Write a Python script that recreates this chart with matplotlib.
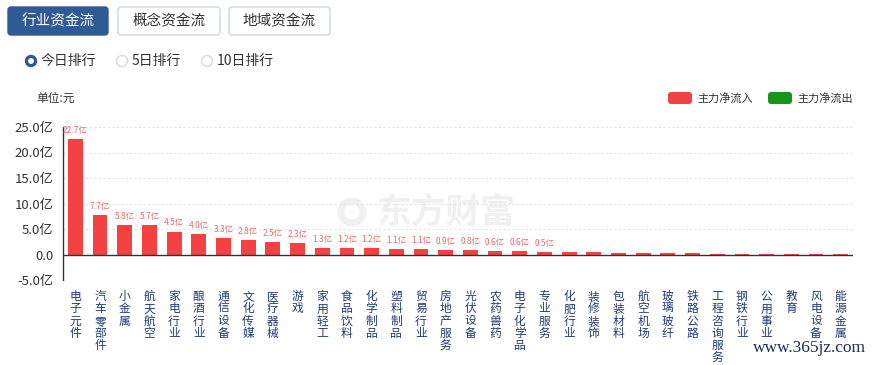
import matplotlib
matplotlib.use('Agg')
import matplotlib.pyplot as plt
from matplotlib.patches import FancyBboxPatch, Circle

plt.rcParams['font.family'] = ['Noto Sans CJK SC', 'DejaVu Sans']

# industries, today's main net inflow (亿元)
industries = ['电子元件', '汽车零部件', '小金属', '航天航空', '家电行业', '酿酒行业',
              '通信设备', '文化传媒', '医疗器械', '游戏', '家用轻工', '食品饮料',
              '化学制品', '塑料制品', '贸易行业', '房地产服务', '光伏设备', '农药兽药',
              '电子化学品', '专业服务', '化肥行业', '装修装饰', '包装材料', '航空机场',
              '玻璃玻纤', '铁路公路', '工程咨询服务', '钢铁行业', '公用事业', '教育',
              '风电设备', '能源金属']
inflow = [22.7, 7.7, 5.8, 5.7, 4.5, 4.0, 3.3, 2.8, 2.5, 2.3, 1.3, 1.2,
          1.2, 1.1, 1.1, 0.9, 0.8, 0.6, 0.6, 0.5, 0.4, 0.4, 0.3, 0.3,
          0.3, 0.2, 0.1, 0.05, 0.04, 0.03, 0.02, 0.02]
y_ticks = [-5, 0, 5, 10, 15, 20, 25]
y_tick_labels = ['-5.0亿', '0.0', '5.0亿', '10.0亿', '15.0亿', '20.0亿', '25.0亿']
tabs = ['行业资金流', '概念资金流', '地域资金流']
periods = ['今日排行', '5日排行', '10日排行']

W, H = 874, 365
fig = plt.figure(figsize=(W / 100, H / 100), dpi=100)

# overlay for the page widgets (pixel coords)
ov = fig.add_axes([0, 0, 1, 1], zorder=0)
ov.set_xlim(0, W)
ov.set_ylim(H, 0)
ov.axis('off')

blue = '#2f5a96'
tab_x = [(8, 108), (118, 220), (229, 330)]
for i, (name, (x0, x1)) in enumerate(zip(tabs, tab_x)):
    fc = blue if i == 0 else 'white'
    ec = blue if i == 0 else '#cfd6e0'
    ov.add_patch(FancyBboxPatch((x0, 7), x1 - x0, 28, boxstyle='round,pad=0,rounding_size=3',
                                fc=fc, ec=ec, lw=1))
    ov.text((x0 + x1) / 2, 21.5, name, ha='center', va='center', fontsize=10.5,
            color='white' if i == 0 else '#333333')

radio_x = [31, 122, 207]
for i, (name, cx) in enumerate(zip(periods, radio_x)):
    if i == 0:
        ov.add_patch(Circle((cx, 61), 5.5, fc=blue, ec=blue))
        ov.add_patch(Circle((cx, 61), 2.2, fc='white', ec='white'))
    else:
        ov.add_patch(Circle((cx, 61), 5.5, fc='white', ec='#d5d9e0', lw=1))
    ov.text(cx + 10, 61, name, ha='left', va='center', fontsize=10, color='#333333')

ov.text(36, 98, '单位:元', ha='left', va='center', fontsize=8.5, color='#333333')

ov.add_patch(FancyBboxPatch((668, 92), 24, 12, boxstyle='round,pad=0,rounding_size=3',
                            fc='#f04343', ec='none'))
ov.text(697, 98, '主力净流入', ha='left', va='center', fontsize=8, color='#333333')
ov.add_patch(FancyBboxPatch((768, 92), 24, 12, boxstyle='round,pad=0,rounding_size=3',
                            fc='#16961a', ec='none'))
ov.text(797, 98, '主力净流出', ha='left', va='center', fontsize=8, color='#333333')

# watermark
ov.add_patch(Circle((352, 212), 11, fc='none', ec='#f0f0f0', lw=5))
ov.text(446, 212, '东方财富', ha='center', va='center', fontsize=25, color='#f0f0f0',
        fontweight='bold', style='italic')

ov.text(866, 348, 'www.365jz.com', ha='right', va='center', fontsize=12.5,
        family='Liberation Serif', color='#1c2c5e')

# main chart
ax = fig.add_axes([63 / W, 1 - 280 / H, (853 - 63) / W, 153 / H], zorder=1)
ax.patch.set_alpha(0)
x = list(range(len(industries)))
ax.bar(x, inflow, width=0.6, color='#f44242', zorder=3)
ax.set_xlim(-0.5, len(industries) - 0.5)
ax.set_ylim(-5, 25)
ax.set_yticks(y_ticks)
ax.set_yticklabels(y_tick_labels)
ax.tick_params(axis='y', length=0, labelsize=9.5, colors='#333333', pad=7)
ax.tick_params(axis='x', length=0)
ax.set_xticks([])
for v in y_ticks:
    if v != 0:
        ax.axhline(v, color='#e3e3e3', lw=0.8, ls=(0, (2, 2)), zorder=1)
ax.axhline(0, color='#333333', lw=1, zorder=4)
for s in ['top', 'right', 'bottom']:
    ax.spines[s].set_visible(False)
ax.spines['left'].set_color('#333333')
ax.spines['left'].set_linewidth(1)

for xi, v in zip(x, inflow):
    if v >= 0.5:
        ax.text(xi, v + 0.8, '%.1f亿' % v, ha='center', va='bottom', fontsize=6,
                color='#e86a6a', zorder=5)

for xi, name in zip(x, industries):
    ax.text(xi, -7.0, '\n'.join(name), ha='center', va='top', fontsize=8.5,
            color='#1f3d7a', linespacing=0.92, clip_on=False)

fig.savefig('out.png', dpi=100)
